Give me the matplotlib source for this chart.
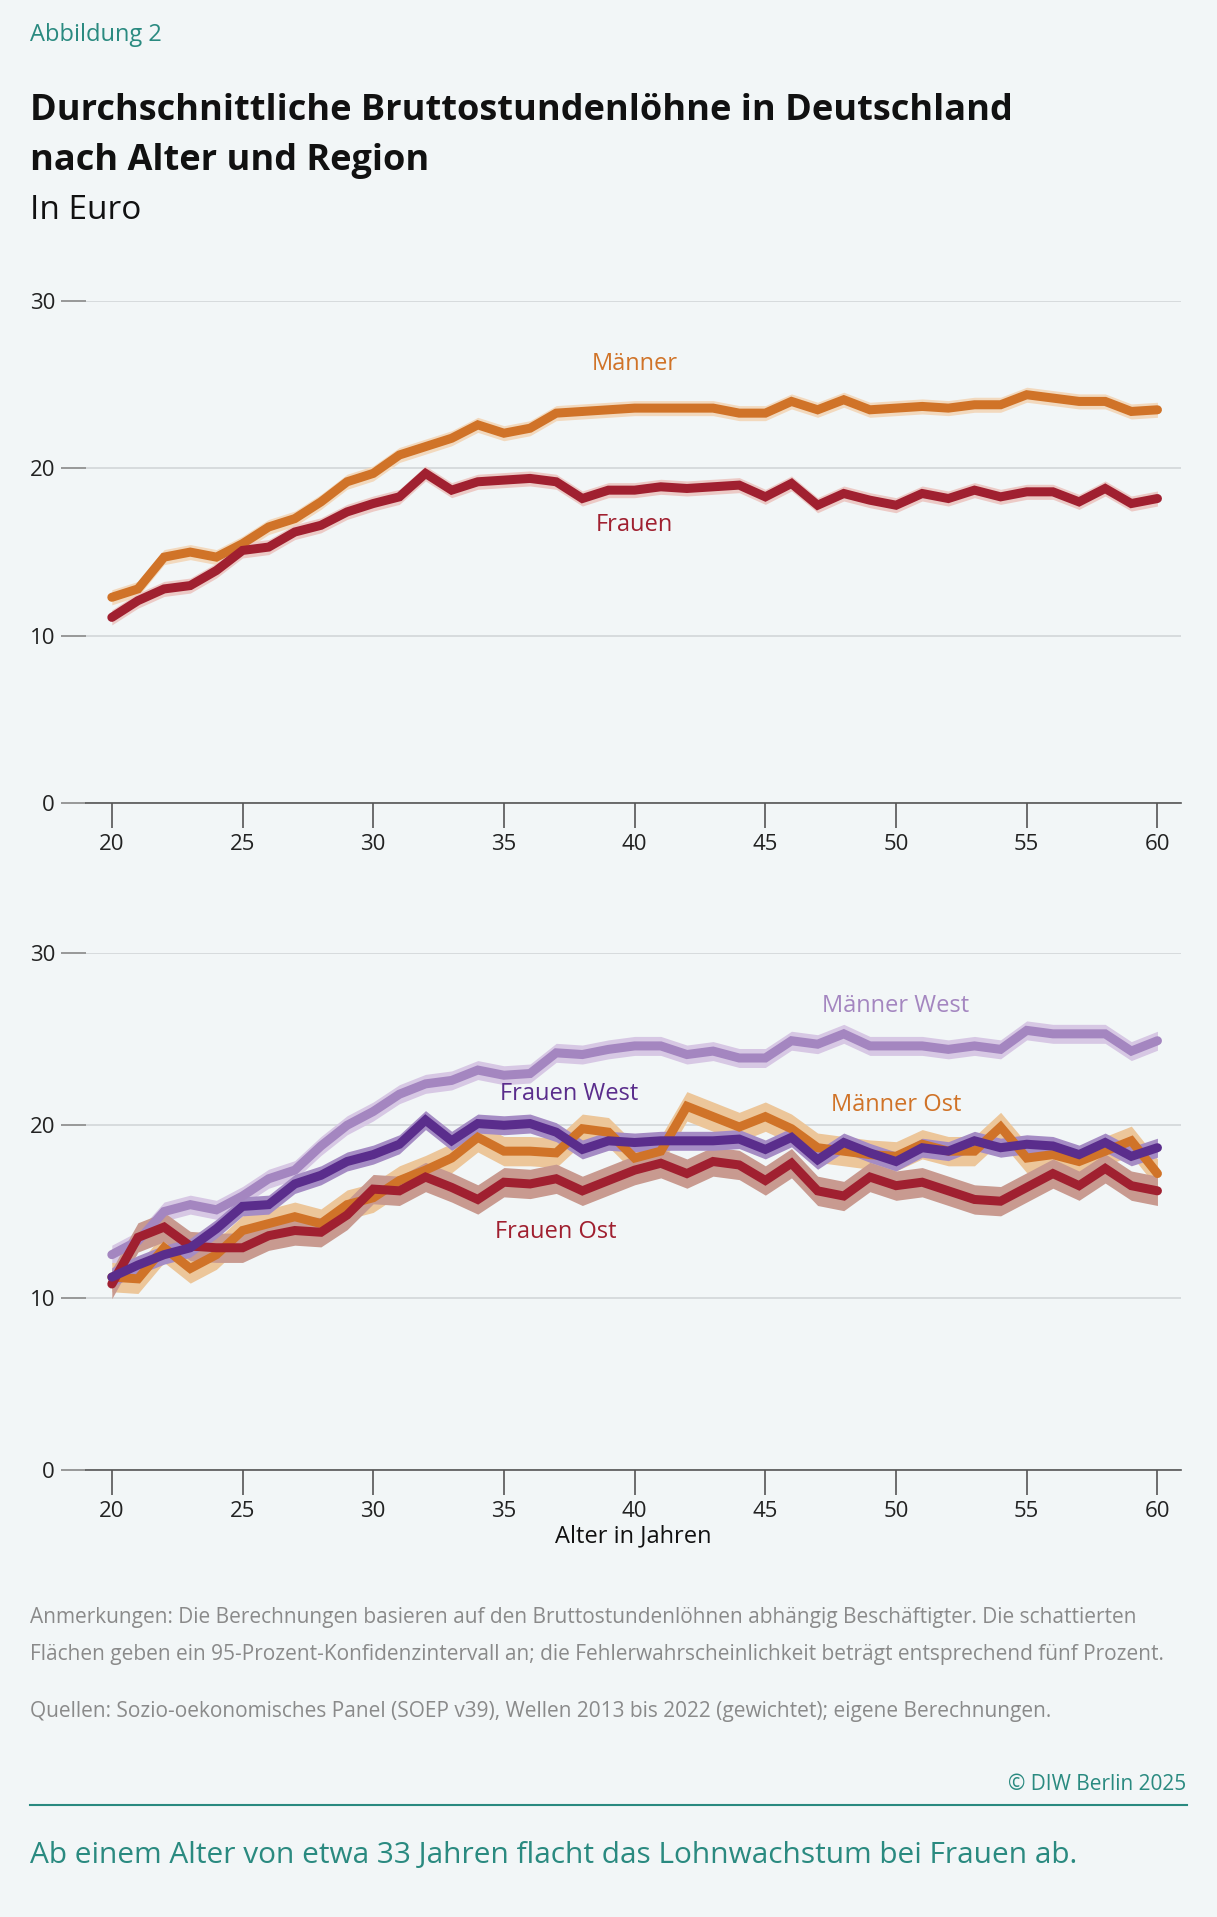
import matplotlib
matplotlib.use("Agg")
import matplotlib.pyplot as plt
import numpy as np

plt.rcParams['font.family'] = ['Open Sans', 'DejaVu Sans']

ages = list(range(20, 61))
maenner = [12.3,12.8,14.7,15.0,14.7,15.5,16.5,17.0,18.0,19.2,19.7,20.8,21.3,21.8,22.6,22.1,22.4,23.3,23.4,23.5,23.6,23.6,23.6,23.6,23.3,23.3,24.0,23.5,24.1,23.5,23.6,23.7,23.6,23.8,23.8,24.4,24.2,24.0,24.0,23.4,23.5]
frauen = [11.1,12.1,12.8,13.0,13.9,15.1,15.3,16.2,16.6,17.4,17.9,18.3,19.7,18.7,19.2,19.3,19.4,19.2,18.2,18.7,18.7,18.9,18.8,18.9,19.0,18.3,19.1,17.8,18.5,18.1,17.8,18.5,18.2,18.7,18.3,18.6,18.6,18.0,18.8,17.9,18.2]
maenner_west = [12.5,13.3,15.0,15.4,15.1,15.9,16.9,17.4,18.8,20.0,20.8,21.8,22.4,22.6,23.2,22.9,23.0,24.2,24.1,24.4,24.6,24.6,24.1,24.3,23.9,23.9,24.9,24.7,25.3,24.6,24.6,24.6,24.4,24.6,24.4,25.5,25.3,25.3,25.3,24.3,24.9]
frauen_west = [11.2,11.9,12.5,12.9,14.0,15.3,15.4,16.6,17.1,17.9,18.3,18.9,20.3,19.1,20.1,20.0,20.1,19.6,18.6,19.1,19.0,19.1,19.1,19.1,19.2,18.6,19.3,18.0,19.0,18.4,17.9,18.7,18.5,19.1,18.7,18.9,18.8,18.3,19.0,18.2,18.7]
maenner_ost = [11.2,11.1,12.9,11.7,12.5,13.9,14.3,14.7,14.3,15.4,15.8,16.8,17.4,18.1,19.3,18.5,18.5,18.4,19.8,19.6,18.1,18.5,21.1,20.5,19.9,20.5,19.8,18.7,18.5,18.3,18.2,18.9,18.5,18.5,19.9,18.1,18.3,17.9,18.5,19.1,17.2]
frauen_ost = [10.8,13.5,14.1,13.0,12.9,12.9,13.6,13.9,13.8,14.8,16.3,16.2,17.0,16.4,15.7,16.7,16.6,16.9,16.2,16.8,17.4,17.8,17.2,17.9,17.7,16.8,17.8,16.2,15.9,17.0,16.5,16.7,16.2,15.7,15.6,16.4,17.2,16.5,17.5,16.5,16.2]
ci_top = 0.45
ci_west = 0.55
ci_ost = 0.85
yticks = [0, 10, 20, 30]
xticks = [20, 25, 30, 35, 40, 45, 50, 55, 60]

BG = '#f2f6f7'
TEAL = '#2a8a80'
fig = plt.figure(figsize=(12.17, 19.17), dpi=100, facecolor=BG)

def style(ax):
    ax.set_facecolor(BG)
    ax.set_xlim(19.0, 60.9)
    ax.set_ylim(0, 30)
    ax.set_yticks(yticks)
    ax.set_xticks(xticks)
    for s in ['top', 'right', 'left']:
        ax.spines[s].set_visible(False)
    ax.spines['bottom'].set_color('#555555')
    ax.spines['bottom'].set_linewidth(1.2)
    ax.grid(axis='y', color='#d2d6d8', lw=1.2)
    ax.tick_params(axis='y', length=18, color='#888888', width=1.2, labelsize=16, pad=4, colors='#222222')
    ax.tick_params(axis='y', color='#888888')
    ax.tick_params(axis='x', length=18, color='#555555', width=1.2, labelsize=16, colors='#222222', pad=4)
    ax.set_axisbelow(True)

def series(ax, y, ci, lc, fc):
    y = np.array(y)
    ax.fill_between(ages, y - ci, y + ci, color=fc, lw=0, zorder=2)
    ax.plot(ages, y, color=lc, lw=6.5, solid_capstyle='round', solid_joinstyle='miter', zorder=3)

ax1 = fig.add_axes([0.0704, 0.581, 0.900, 0.262])
style(ax1)
series(ax1, maenner, ci_top, '#d07328', '#f2d9be')
series(ax1, frauen, ci_top, '#a02030', '#eccac6')
ax1.text(40, 25.5, 'Männer', color='#d07328', fontsize=17, ha='center', va='bottom')
ax1.text(40, 15.9, 'Frauen', color='#a02030', fontsize=17, ha='center', va='bottom')

ax2 = fig.add_axes([0.0704, 0.233, 0.900, 0.270])
style(ax2)
series(ax2, maenner_west, ci_west, '#a486c0', '#d7c8e4')
series(ax2, maenner_ost, ci_ost, '#d07328', '#ecc69a')
series(ax2, frauen_ost, ci_ost, '#a02030', '#c89a90')
series(ax2, frauen_west, ci_west, '#5a2d8c', '#a58cc4')
ax2.text(50, 26.2, 'Männer West', color='#a486c0', fontsize=17, ha='center', va='bottom')
ax2.text(37.5, 21.1, 'Frauen West', color='#5a2d8c', fontsize=17, ha='center', va='bottom')
ax2.text(50, 20.5, 'Männer Ost', color='#d07328', fontsize=17, ha='center', va='bottom')
ax2.text(37, 13.1, 'Frauen Ost', color='#a02030', fontsize=17, ha='center', va='bottom')
ax2.set_xlabel('Alter in Jahren', fontsize=17, color='#111111', labelpad=2)

fig.text(0.025, 0.982, 'Abbildung 2', color=TEAL, fontsize=17, va='center')
fig.text(0.025, 0.942, 'Durchschnittliche Bruttostundenlöhne in Deutschland', fontsize=26, weight='bold', va='center', color='#111111')
fig.text(0.025, 0.916, 'nach Alter und Region', fontsize=26, weight='bold', va='center', color='#111111')
fig.text(0.025, 0.890, 'In Euro', fontsize=24, va='center', color='#111111')

GREY = '#8a8a8a'
fig.text(0.025, 0.156, 'Anmerkungen: Die Berechnungen basieren auf den Bruttostundenlöhnen abhängig Beschäftigter. Die schattierten', fontsize=15, color=GREY, va='center')
fig.text(0.025, 0.137, 'Flächen geben ein 95-Prozent-Konfidenzintervall an; die Fehlerwahrscheinlichkeit beträgt entsprechend fünf Prozent.', fontsize=15, color=GREY, va='center')
fig.text(0.025, 0.107, 'Quellen: Sozio-oekonomisches Panel (SOEP v39), Wellen 2013 bis 2022 (gewichtet); eigene Berechnungen.', fontsize=15, color=GREY, va='center')
fig.text(0.975, 0.069, '© DIW Berlin 2025', fontsize=15, color=TEAL, va='center', ha='right')
fig.add_artist(plt.Line2D([0.025, 0.975], [0.0585, 0.0585], color=TEAL, lw=1.5))
fig.text(0.025, 0.032, 'Ab einem Alter von etwa 33 Jahren flacht das Lohnwachstum bei Frauen ab.', fontsize=21.5, color=TEAL, va='center')

fig.savefig('out.png', dpi=100, facecolor=BG)
